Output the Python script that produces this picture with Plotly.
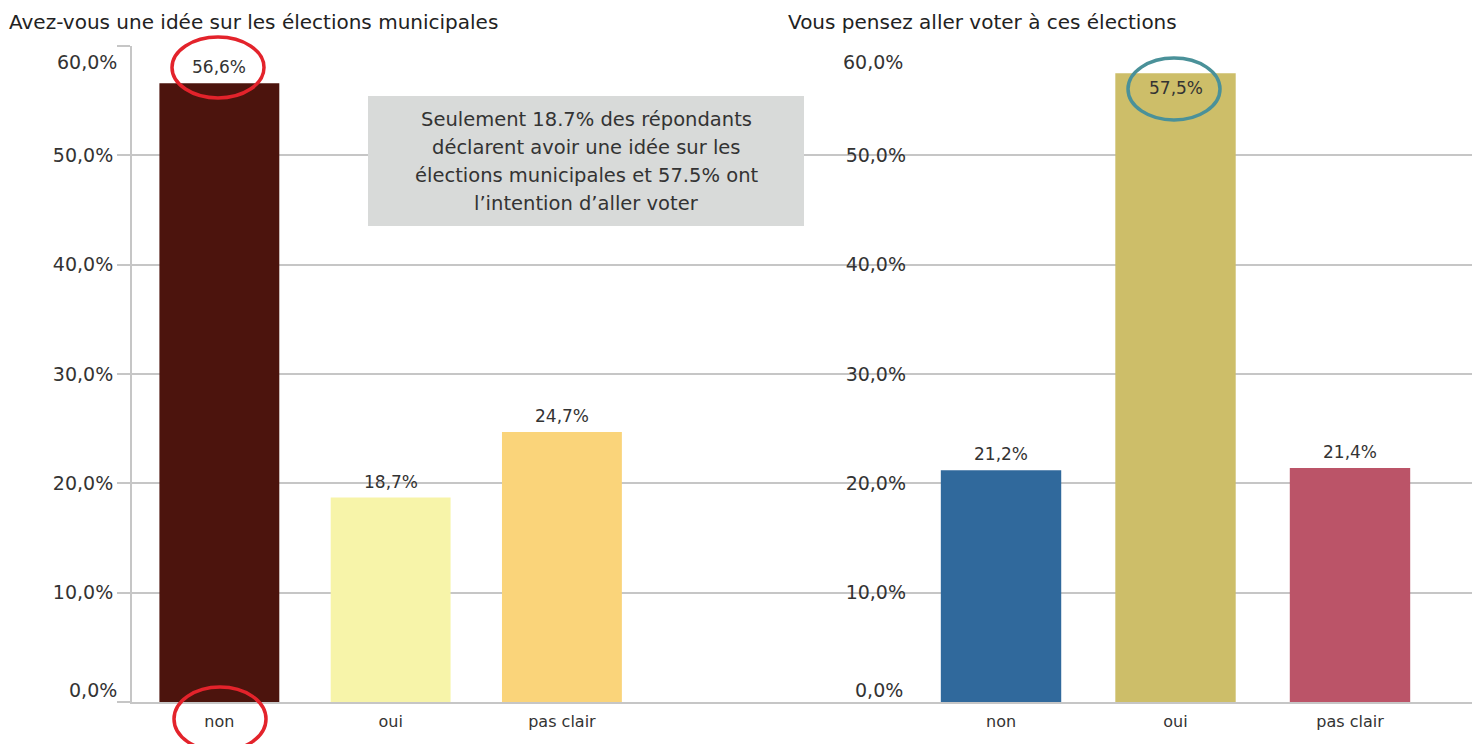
import plotly.graph_objects as go

# ---------------- data ----------------
categories = ["non", "oui", "pas clair"]
idee_values = [56.6, 18.7, 24.7]          # Avez-vous une idée sur les élections municipales
voter_values = [21.2, 57.5, 21.4]         # Vous pensez aller voter à ces élections
idee_colors = ["#4C140D", "#F7F4A9", "#FAD47A"]
voter_colors = ["#30699C", "#CDBE69", "#BB5468"]
y_ticks = [0, 10, 20, 30, 40, 50, 60]
title_left = "Avez-vous une idée sur les élections municipales"
title_right = "Vous pensez aller voter à ces élections"
note_lines = ["Seulement 18.7% des répondants",
              "déclarent avoir une idée sur les",
              "élections municipales et 57.5% ont",
              "l’intention d’aller voter"]

# ---------------- geometry helpers (reference-pixel space) ----------------
OFF = 8                      # default page body margin
W, H = 1480 - OFF, 744 - OFF
TOP, BOT = 46, 702           # reference rows of 60 % and 0 %
MT = TOP - OFF
MB = H - (BOT - OFF)
PH = H - MT - MB


def px(x):
    return (x - OFF) / W


def py(y):
    return (BOT - y) / PH


FONT = "DejaVu Sans"
GRID = "#C6C6C6"
TXT = "#333333"
YMAX = y_ticks[-1]


def fmt(v):
    return f"{v:.1f}".replace(".", ",") + "%"


fig = go.Figure()
fig.add_trace(go.Bar(x=categories, y=idee_values, marker=dict(color=idee_colors, line=dict(width=0)),
                     width=0.70, xaxis="x", yaxis="y", showlegend=False, hoverinfo="skip"))
fig.add_trace(go.Bar(x=categories, y=voter_values, marker=dict(color=voter_colors, line=dict(width=0)),
                     width=0.69, xaxis="x2", yaxis="y2", showlegend=False, hoverinfo="skip"))

annotations = []
# value labels above bars (inside the bar when it nearly reaches the top)
for xa, ya, vals in (("x", "y", idee_values), ("x2", "y2", voter_values)):
    for c, v in zip(categories, vals):
        inside = v > YMAX - 3
        annotations.append(dict(x=c, y=v, xref=xa, yref=ya, text=fmt(v), showarrow=False,
                                yanchor="middle", yshift=-15 if inside else 16,
                                font=dict(family=FONT, size=17, color=TXT)))

# edge tick labels (shifted inward like the reference)
for xpos in (119, 905):
    annotations.append(dict(x=px(xpos), y=y_ticks[0], xref="paper", yref="y", text=fmt(y_ticks[0]),
                            xanchor="right", yanchor="middle", yshift=12, showarrow=False,
                            font=dict(family=FONT, size=19, color=TXT)))
    annotations.append(dict(x=px(xpos), y=y_ticks[-1], xref="paper", yref="y", text=fmt(y_ticks[-1]),
                            xanchor="right", yanchor="middle", yshift=-16, showarrow=False,
                            font=dict(family=FONT, size=19, color=TXT)))

# titles
for xpos, txt in ((8, title_left), (787, title_right)):
    annotations.append(dict(x=px(xpos), y=py(OFF + 1), xref="paper", yref="paper", text=txt,
                            xanchor="left", yanchor="top", showarrow=False, borderpad=0,
                            font=dict(family=FONT, size=20, color="#222222")))
# note box text
for i, line in enumerate(note_lines):
    annotations.append(dict(x=px(586), y=py(119 + 28 * i), xref="paper", yref="paper", text=line,
                            xanchor="center", yanchor="middle", showarrow=False,
                            font=dict(family=FONT, size=19.5, color=TXT)))

shapes = [
    dict(type="rect", xref="paper", yref="paper", x0=px(368), x1=px(804), y0=py(226), y1=py(96),
         fillcolor="#D8DAD9", line=dict(width=0), layer="above"),
    dict(type="circle", xref="paper", yref="paper", x0=px(172), x1=px(264), y0=py(98), y1=py(37),
         line=dict(color="#E3232B", width=3.5)),
    dict(type="circle", xref="paper", yref="paper", x0=px(174), x1=px(266), y0=py(751), y1=py(687),
         line=dict(color="#E3232B", width=3.5)),
    dict(type="circle", xref="paper", yref="paper", x0=px(1128), x1=px(1220), y0=py(120), y1=py(58),
         line=dict(color="#4A9199", width=3.5)),
]

tick_text = [""] + [fmt(v) for v in y_ticks[1:-1]] + [""]

common_x = dict(showgrid=False, zeroline=False, showline=True, linecolor=GRID, linewidth=2,
                ticks="outside", ticklen=4, tickcolor="rgba(0,0,0,0)",
                tickfont=dict(family=FONT, size=16, color=TXT), fixedrange=True)
common_y = dict(range=[0, YMAX], tickvals=y_ticks, ticktext=tick_text, showgrid=True,
                gridcolor=GRID, gridwidth=2, zeroline=False,
                tickfont=dict(family=FONT, size=19, color=TXT), fixedrange=True)

fig.update_layout(
    width=W, height=H, margin=dict(l=0, r=0, t=MT, b=MB),
    paper_bgcolor="white", plot_bgcolor="white",
    xaxis=dict(domain=[px(132), px(800)], range=[-0.51, 3.39], anchor="y", **common_x),
    xaxis2=dict(domain=[px(800), 1], range=[-1.152, 2.745], anchor="y2", **common_x),
    yaxis=dict(domain=[0, 1], anchor="x", showline=True, linecolor=GRID, linewidth=2,
               ticks="outside", ticklen=13, tickcolor=GRID, tickwidth=2, **common_y),
    yaxis2=dict(domain=[0, 1], anchor="free", position=px(906), showline=False, ticks="",
                **common_y),
    annotations=annotations,
    shapes=shapes,
)

fig.write_html("out.html")
